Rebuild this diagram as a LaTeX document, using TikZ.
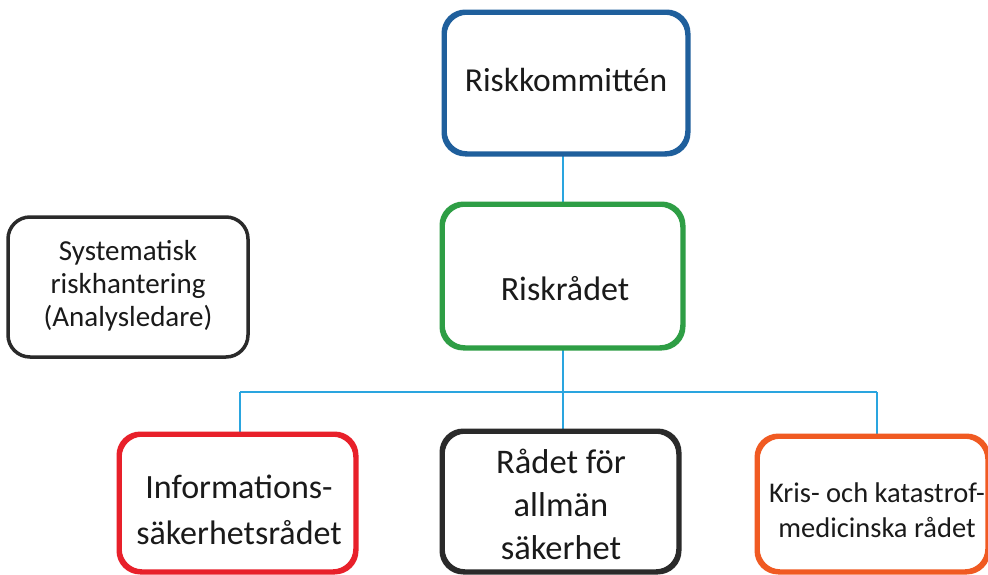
\documentclass[tikz,border=0pt]{standalone}
\usepackage{fontspec}
\setmainfont{Carlito}
\definecolor{cblue}{HTML}{1F5F9C}
\definecolor{cgreen}{HTML}{2E9E45}
\definecolor{cred}{HTML}{E8202A}
\definecolor{cdark}{HTML}{2A2A2A}
\definecolor{corange}{HTML}{F05A22}
\definecolor{cline}{HTML}{2AA5DF}
\definecolor{ctext}{HTML}{1A1A1A}
\begin{document}
\begin{tikzpicture}[x=1pt,y=-1pt,
  box/.style={draw, line width=3.5pt, rounded corners=22pt, fill=white, inner sep=0pt, align=center, text=ctext},
  conn/.style={draw=cline, line width=1.8pt},
  txt/.style={inner sep=0pt, align=center, text=ctext}]
\useasboundingbox (0,0) rectangle (988,574);
\fill[white] (0,0) rectangle (988,574);
% boxes
\node[box, draw=cblue, minimum width=242pt, minimum height=140pt] (rk) at (566,83) {};
\node[txt, font=\fontsize{33.5}{40}\selectfont] (rkt) at (566,80) {Riskkommittén};
\node[box, draw=cgreen, minimum width=239pt, minimum height=142pt] (rr) at (562.5,276) {};
\node[txt, font=\fontsize{34}{40}\selectfont] (rrt) at (565,289) {Riskrådet};
\node[box, draw=cdark, minimum width=240pt, minimum height=140pt] (sys) at (128,287) {};
\node[txt, font=\fontsize{29}{33}\selectfont] (syst) at (128,286) {Systematisk\\riskhantering\\(Analysledare)};
\node[box, draw=cred, minimum width=235pt, minimum height=136pt] (info) at (237.5,503) {};
\node[txt, font=\fontsize{34}{46}\selectfont] (infot) at (239,510) {Informations-\\säkerhetsrådet};
\node[box, draw=cdark, minimum width=235pt, minimum height=139pt] (radet) at (560.5,501.5) {};
\node[txt, font=\fontsize{34.5}{43}\selectfont] (radett) at (561,504) {Rådet för\\allmän\\säkerhet};
\node[box, draw=corange, minimum width=229pt, minimum height=134pt] (kris) at (872.5,504) {};
\node[txt, font=\fontsize{28.5}{35}\selectfont] (krist) at (877,510) {Kris- och katastrof-\\medicinska rådet};
% connectors
\coordinate (j) at (563,392);
\coordinate (jl) at (240,392);
\coordinate (jr) at (877,392);
\draw[conn] (rk.south -| j) -- (rr.north -| j);
\draw[conn] (rr.south -| j) -- (j);
\draw[conn] (jl) -- (jr);
\draw[conn] (jl) -- (info.north -| jl);
\draw[conn] (j) -- (radet.north -| j);
\draw[conn] (jr) -- (kris.north -| jr);
% redraw boxes on top of connectors
\draw[cblue, line width=3.5pt, rounded corners=22pt] (rk.north west) rectangle (rk.south east);
\draw[cgreen, line width=3.5pt, rounded corners=22pt] (rr.north west) rectangle (rr.south east);
\draw[cred, line width=3.5pt, rounded corners=22pt] (info.north west) rectangle (info.south east);
\draw[cdark, line width=3.5pt, rounded corners=22pt] (radet.north west) rectangle (radet.south east);
\draw[corange, line width=3.5pt, rounded corners=22pt] (kris.north west) rectangle (kris.south east);
\end{tikzpicture}
\end{document}
